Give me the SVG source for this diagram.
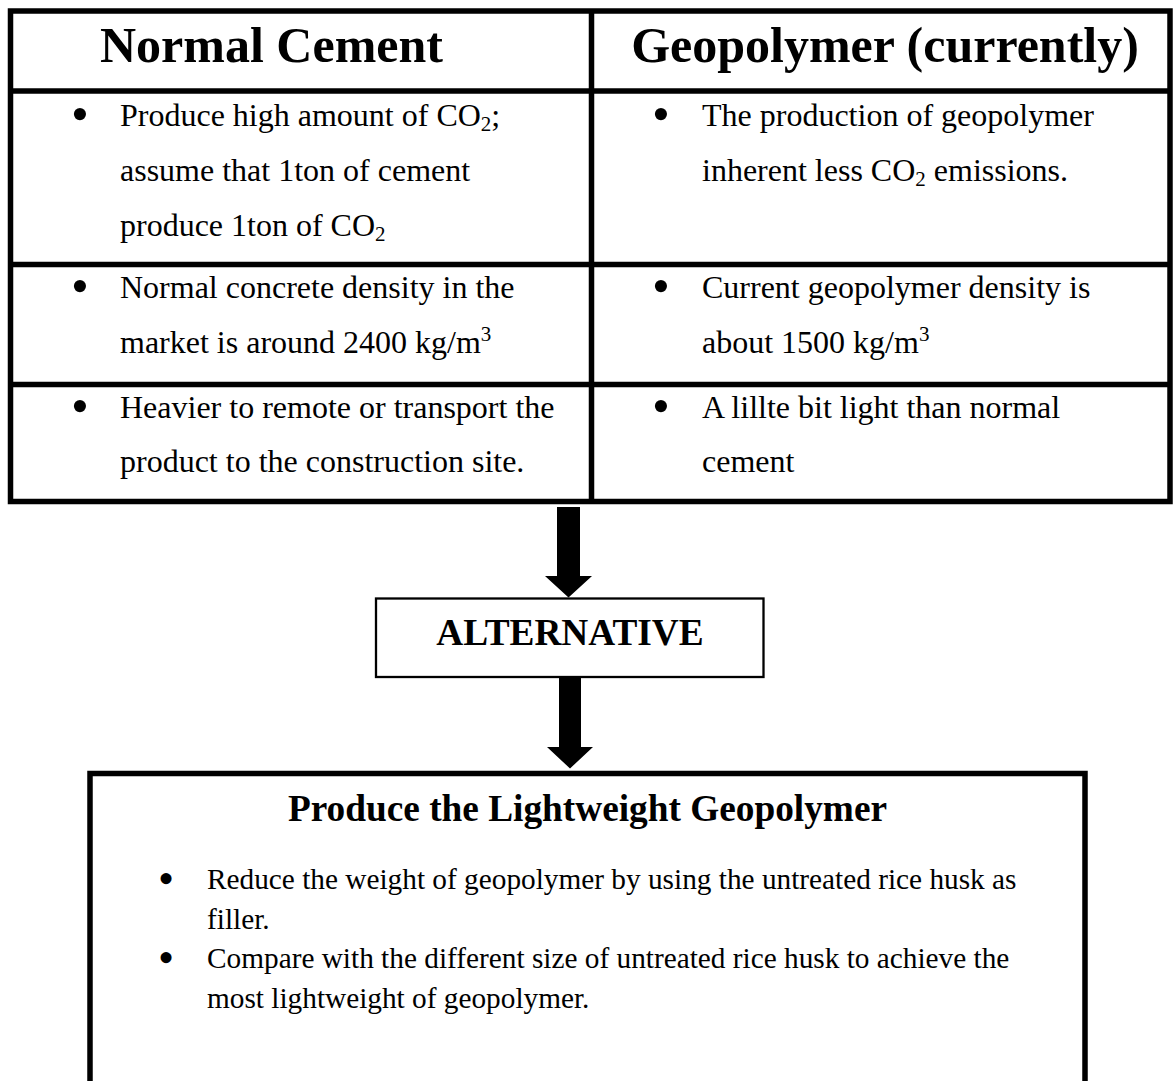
<svg xmlns="http://www.w3.org/2000/svg" width="1173" height="1081" viewBox="0 0 1173 1081">
<style>
.ln{stroke:#000;stroke-width:5.5;fill:none}
.hd{font-family:"Liberation Serif","Times New Roman",serif;font-weight:bold;font-size:50px;fill:#000}
.tt{font-family:"Liberation Serif","Times New Roman",serif;font-weight:bold;font-size:37.3px;fill:#000;text-anchor:middle}
.bd{font-family:"Liberation Serif","Times New Roman",serif;font-size:32px;fill:#000}
.sm{font-family:"Liberation Serif","Times New Roman",serif;font-size:29.3px;fill:#000}
.bl{font-family:"Liberation Serif","Times New Roman",serif;font-size:51px;fill:#000;text-anchor:middle}
.bs{font-family:"Liberation Serif","Times New Roman",serif;font-size:46px;fill:#000;text-anchor:middle}
.ar{fill:#000}
</style>
<rect width="1173" height="1081" fill="#fff"/>
<g id="comparison-table">
  <rect class="ln" x="10.5" y="11" width="1159.5" height="490.5"/>
  <line class="ln" x1="10.5" y1="91" x2="1170" y2="91"/>
  <line class="ln" x1="10.5" y1="264.5" x2="1170" y2="264.5"/>
  <line class="ln" x1="10.5" y1="384.5" x2="1170" y2="384.5"/>
  <line class="ln" x1="591.5" y1="11" x2="591.5" y2="501.5"/>
  <text class="hd" x="100" y="62">Normal Cement</text>
  <text class="hd" x="885" y="62" text-anchor="middle">Geopolymer (currently)</text>
  <text class="bl" x="80" y="131">•</text>
  <text class="bd" x="120" y="126">Produce high amount of CO<tspan font-size="21" dy="5">2</tspan><tspan dy="-5">;</tspan></text>
  <text class="bd" x="120" y="181">assume that 1ton of cement</text>
  <text class="bd" x="120" y="236">produce 1ton of CO<tspan font-size="21" dy="5">2</tspan></text>
  <text class="bl" x="80" y="303">•</text>
  <text class="bd" x="120" y="298">Normal concrete density in the</text>
  <text class="bd" x="120" y="353">market is around 2400 kg/m<tspan font-size="21" dy="-12">3</tspan></text>
  <text class="bl" x="80" y="423">•</text>
  <text class="bd" x="120" y="418">Heavier to remote or transport the</text>
  <text class="bd" x="120" y="472">product to the construction site.</text>
  <text class="bl" x="661" y="131">•</text>
  <text class="bd" x="702" y="126">The production of geopolymer</text>
  <text class="bd" x="702" y="181">inherent less CO<tspan font-size="21" dy="5">2</tspan><tspan dy="-5"> emissions.</tspan></text>
  <text class="bl" x="661" y="303">•</text>
  <text class="bd" x="702" y="298">Current geopolymer density is</text>
  <text class="bd" x="702" y="353">about 1500 kg/m<tspan font-size="21" dy="-12">3</tspan></text>
  <text class="bl" x="661" y="423">•</text>
  <text class="bd" x="702" y="418">A lillte bit light than normal</text>
  <text class="bd" x="702" y="472">cement</text>
</g>
<g id="alternative">
  <rect x="376" y="598.5" width="387.5" height="78.5" fill="#fff" stroke="#000" stroke-width="2.3"/>
  <text class="tt" x="570" y="645">ALTERNATIVE</text>
</g>
<g id="lightweight-geopolymer">
  <path class="ln" stroke-width="5" d="M90,1090 V773.5 H1085 V1090"/>
  <text class="tt" x="587.5" y="821">Produce the Lightweight Geopolymer</text>
  <text class="bs" x="166" y="894">•</text>
  <text class="sm" x="207" y="889">Reduce the weight of geopolymer by using the untreated rice husk as</text>
  <text class="sm" x="207" y="929">filler.</text>
  <text class="bs" x="166" y="973">•</text>
  <text class="sm" x="207" y="968">Compare with the different size of untreated rice husk to achieve the</text>
  <text class="sm" x="207" y="1008">most lightweight of geopolymer.</text>
</g>
<g id="connectors">
  <polygon class="ar" points="557,507 580,507 580,576 592,576 568.5,597.5 545,576 557,576"/>
  <polygon class="ar" points="559,678 581,678 581,747 593,747 570,768.5 547,747 559,747"/>
</g>
</svg>
